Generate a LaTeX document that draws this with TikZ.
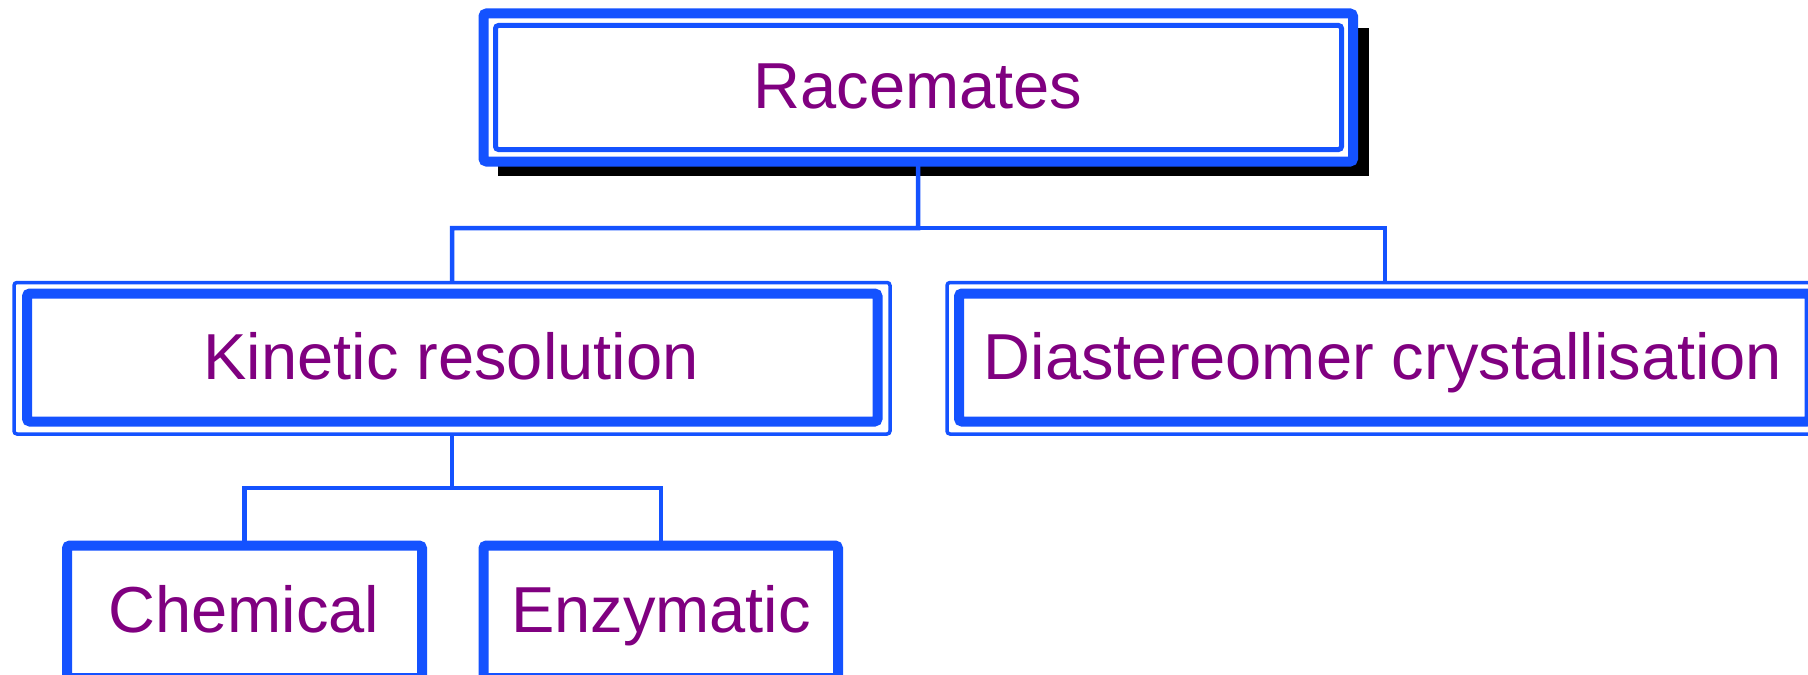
\documentclass[tikz,border=0pt]{standalone}
\usepackage{fontspec}
\setmainfont{Liberation Sans}
\usetikzlibrary{fit}
\definecolor{boxblue}{RGB}{20,82,255}
\definecolor{txtpurple}{RGB}{128,0,128}
\tikzset{
  frame/.style={inner sep=0pt, outer sep=0pt, draw=boxblue, rounded corners=1.5pt},
  heavy/.style={frame, line width=5pt},
  light/.style={frame, line width=2.5pt},
  hair/.style={frame, line width=1.75pt},
  shadowbox/.style={inner sep=0pt, outer sep=0pt, fill=black},
  label/.style={anchor=base, text=txtpurple, inner sep=0pt, font=\fontsize{32.5}{39}\selectfont},
  conn/.style={draw=boxblue, line width=2.25pt}
}
\begin{document}
\begin{tikzpicture}[x=0.5pt, y=-0.5pt]
\clip (0,0) rectangle (1808,674);
\fill[white] (0,0) rectangle (1808,674);
% Racemates
\node[shadowbox, fit={(498,28) (1369,176)}] (raceshadow) {};
\node[heavy, fill=white, fit={(483.5,13.5) (1353,161.5)}] (race) {};
\node[light, fit={(495.5,25.5) (1341.5,149.5)}] (racein) {};
\node[label] (racetxt) at (918,109) {Racemates};
% Kinetic resolution
\node[hair, fit={(14,282.5) (890,434)}] (kin) {};
\node[heavy, fit={(27,293.5) (877.5,421.5)}] (kinin) {};
\node[label] (kintxt) at (451,379) {Kinetic resolution};
% Diastereomer crystallisation
\node[hair, fit={(947,282.5) (1823,434)}] (dia) {};
\node[heavy, fit={(959,293.5) (1809.5,421.5)}] (diain) {};
\node[label] (diatxt) at (1383,379) {Diastereomer crystallisation};
% Chemical / Enzymatic
\node[heavy, fit={(67,545.5) (422,678)}] (che) {};
\node[label] (chetxt) at (244,632) {Chemical};
\node[heavy, fit={(483.5,545.5) (838,678)}] (enz) {};
\node[label] (enztxt) at (661,632) {Enzymatic};
% connectors
\coordinate (jtop) at (918,228);
\coordinate (jmid) at (452,488);
\draw[conn] (race.south) -- (jtop) -| (kin.north);
\draw[conn] (jtop) -| (dia.north);
\draw[conn] (kin.south) -- (jmid) -| (che.north);
\draw[conn] (jmid) -| (enz.north);
\end{tikzpicture}
\end{document}
